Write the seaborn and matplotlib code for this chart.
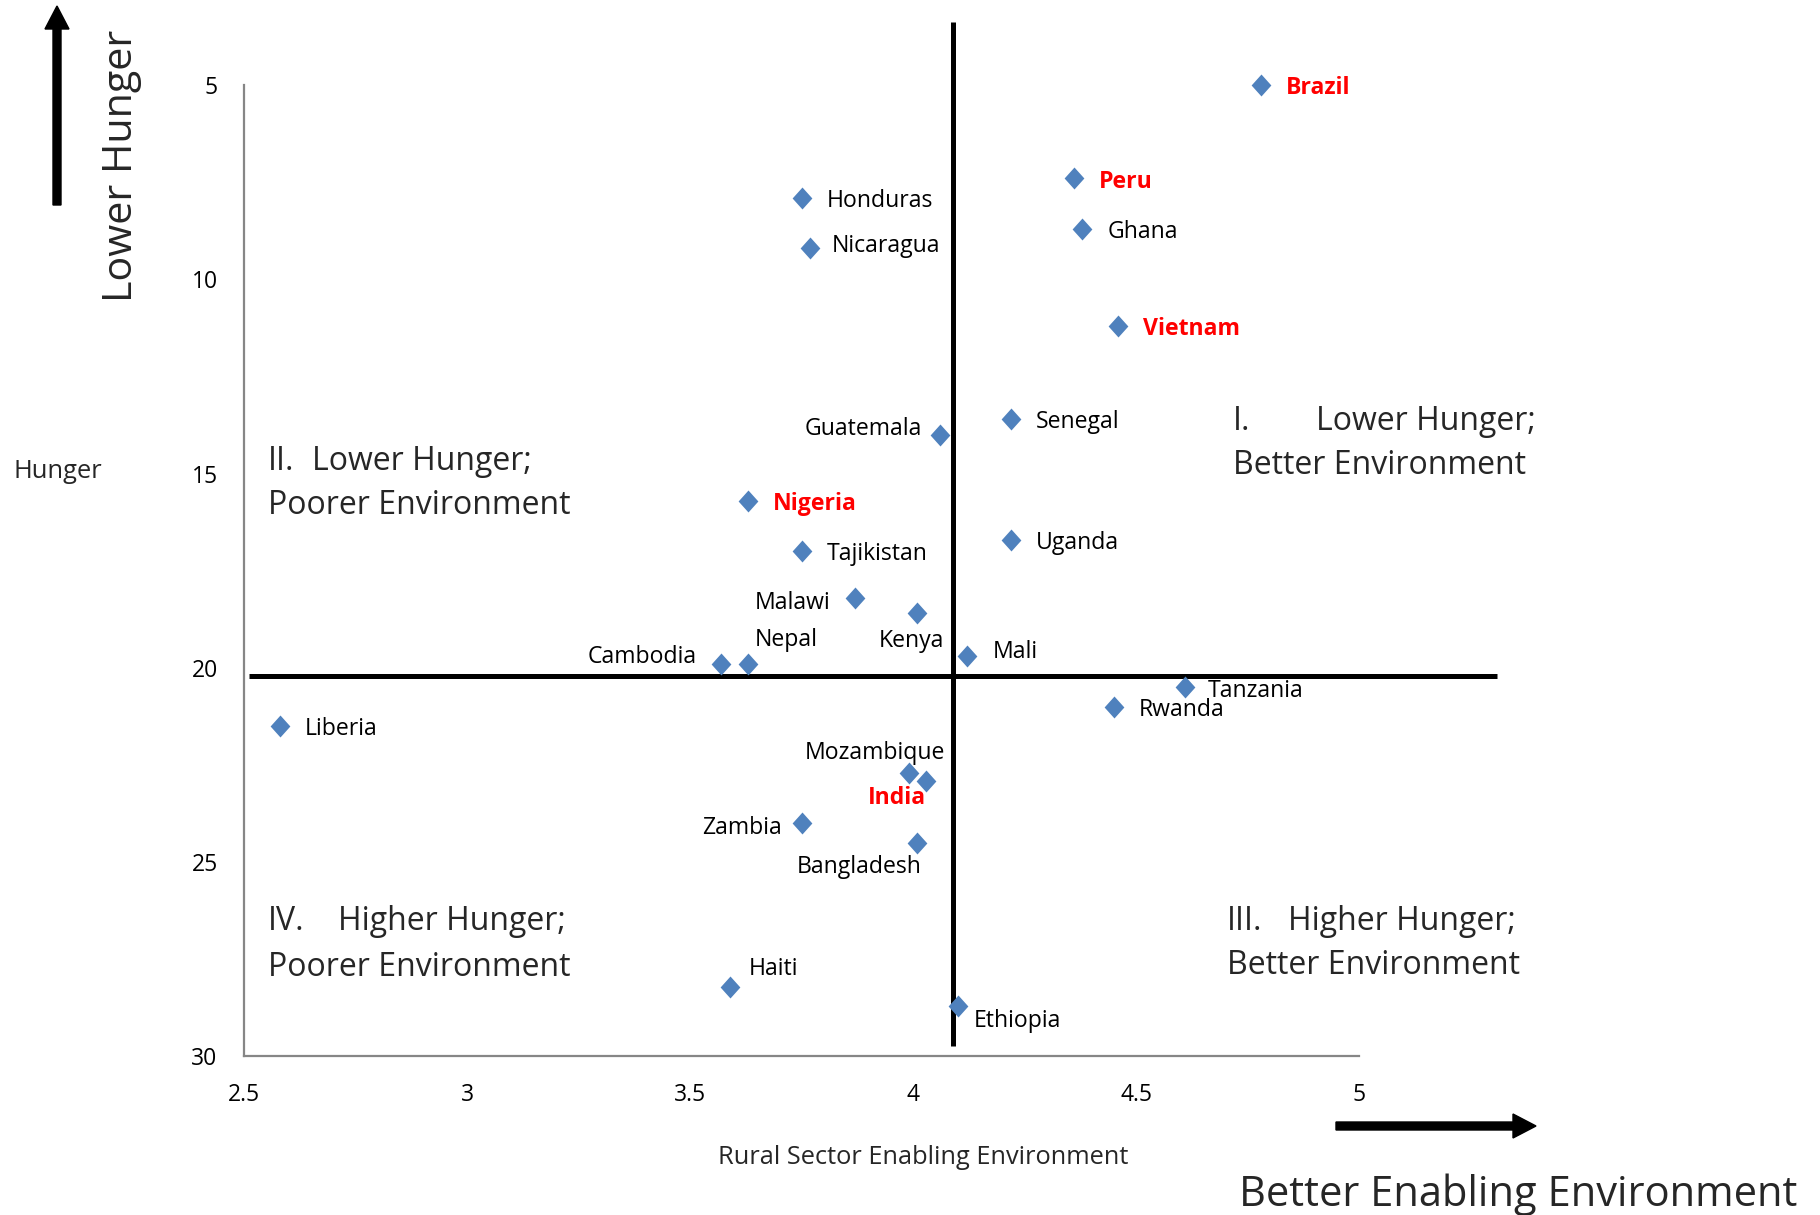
import matplotlib
matplotlib.use("Agg")
import matplotlib.pyplot as plt
import seaborn as sns
import pandas as pd
from matplotlib.path import Path
from matplotlib.patches import FancyArrow

# Country scores: rural sector enabling environment vs. hunger index
countries = ["Brazil", "Peru", "Ghana", "Vietnam", "Honduras", "Nicaragua",
             "Guatemala", "Senegal", "Nigeria", "Uganda", "Tajikistan",
             "Malawi", "Kenya", "Nepal", "Cambodia", "Mali", "Tanzania",
             "Rwanda", "Liberia", "Mozambique", "India", "Zambia",
             "Bangladesh", "Haiti", "Ethiopia"]
enabling_env = [4.78, 4.36, 4.38, 4.46, 3.75, 3.77,
                4.06, 4.22, 3.63, 4.22, 3.75,
                3.87, 4.01, 3.63, 3.57, 4.12, 4.61,
                4.45, 2.58, 3.99, 4.03, 3.75,
                4.01, 3.59, 4.10]
hunger_index = [5.0, 7.4, 8.7, 11.2, 7.9, 9.2,
                14.0, 13.6, 15.7, 16.7, 17.0,
                18.2, 18.6, 19.9, 19.9, 19.7, 20.5,
                21.0, 21.5, 22.7, 22.9, 24.0,
                24.5, 28.2, 28.7]
highlighted = ["Brazil", "Peru", "Vietnam", "Nigeria", "India"]

x_ticks = [2.5, 3, 3.5, 4, 4.5, 5]
x_tick_labels = ["2.5", "3", "3.5", "4", "4.5", "5"]
y_ticks = [5, 10, 15, 20, 25, 30]
y_tick_labels = ["5", "10", "15", "20", "25", "30"]

# quadrant split values
env_split = 4.09
hunger_split = 20.2

# label placement: offset in pixels from the marker, horizontal alignment
label_offsets = {
    "Brazil": (25, -3, "left"), "Peru": (25, -4, "left"),
    "Ghana": (25, -3, "left"), "Vietnam": (25, -3, "left"),
    "Honduras": (25, -3, "left"), "Nicaragua": (21, 2, "left"),
    "Guatemala": (-18, 6, "right"), "Senegal": (25, -3, "left"),
    "Nigeria": (25, -3, "left"), "Uganda": (25, -3, "left"),
    "Tajikistan": (25, -3, "left"), "Malawi": (-25, -5, "right"),
    "Kenya": (-6, -28, "center"), "Nepal": (38, 24, "center"),
    "Cambodia": (-25, 7, "right"), "Mali": (26, 4, "left"),
    "Tanzania": (23, -4, "left"), "Rwanda": (25, -3, "left"),
    "Liberia": (25, -3, "left"), "Mozambique": (-34, 20, "center"),
    "India": (-29, -17, "center"), "Zambia": (-20, -5, "right"),
    "Bangladesh": (-58, -24, "center"), "Haiti": (19, 18, "left"),
    "Ethiopia": (16, -15, "left"),
}

sns.set_style("white")
plt.rcParams["font.family"] = ["Open Sans", "DejaVu Sans"]

df = pd.DataFrame({"country": countries, "env": enabling_env, "hunger": hunger_index})

fig = plt.figure(figsize=(18.2, 12.15), dpi=100)
ax = fig.add_axes([0.1341, 0.1305, 0.6126, 0.7995])

diamond = Path([(0, 1), (0.9, 0), (0, -1), (-0.9, 0), (0, 1)],
               [Path.MOVETO, Path.LINETO, Path.LINETO, Path.LINETO, Path.CLOSEPOLY])
sns.scatterplot(data=df, x="env", y="hunger", marker=diamond, s=250,
                color="#4F81BD", linewidth=0, ax=ax, legend=False,
                clip_on=False, zorder=4)

ax.set_xlim(2.5, 5)
ax.set_ylim(30, 5)
ax.set_xticks(x_ticks, x_tick_labels)
ax.set_yticks(y_ticks, y_tick_labels)
ax.set_xlabel("")
ax.set_ylabel("")
for side in ("top", "right"):
    ax.spines[side].set_visible(False)
for side in ("left", "bottom"):
    ax.spines[side].set_color("#868686")
    ax.spines[side].set_linewidth(1.6)
ax.tick_params(axis="both", direction="out", length=5, width=1.4,
               color="#868686", labelcolor="black", labelsize=16.5)
ax.tick_params(axis="x", pad=14)
ax.tick_params(axis="y", pad=14)

# quadrant dividers
ax.plot([env_split, env_split], [3.38, 29.72], color="black", lw=3.6,
        clip_on=False, zorder=3, solid_capstyle="butt")
ax.plot([2.51, 5.31], [hunger_split, hunger_split], color="black", lw=3.6,
        clip_on=False, zorder=3, solid_capstyle="butt")

# country labels
for name, xv, yv in zip(countries, enabling_env, hunger_index):
    dx, dy, ha = label_offsets[name]
    hot = name in highlighted
    ax.annotate(name, (xv, yv), xytext=(dx, dy), textcoords="offset pixels",
                ha=ha, va="center", fontsize=16.6,
                color="#FF0000" if hot else "black",
                fontweight="bold" if hot else "normal", zorder=5)

# quadrant captions (figure pixel positions from top-left)
W, H = 1820, 1215
def ftext(px, py, s, **kw):
    fig.text(px / W, 1 - py / H, s, **kw)

qkw = dict(fontsize=23, va="center", ha="left")
ftext(268, 461, "II.", **qkw)
ftext(312, 461, "Lower Hunger;", **qkw)
ftext(268, 505, "Poorer Environment", **qkw)
ftext(1233, 422, "I.", **qkw)
ftext(1316, 422, "Lower Hunger;", **qkw)
ftext(1233, 466, "Better Environment", **qkw)
ftext(268, 922, "IV.", **qkw)
ftext(338, 922, "Higher Hunger;", **qkw)
ftext(268, 968, "Poorer Environment", **qkw)
ftext(1227, 921, "III.", **qkw)
ftext(1288, 921, "Higher Hunger;", **qkw)
ftext(1227, 965, "Better Environment", **qkw)

# axis titles
ftext(923, 1158, "Rural Sector Enabling Environment", fontsize=18.3, ha="center", va="center")
ftext(14, 471, "Hunger", fontsize=18.4, ha="left", va="center")
ftext(122, 166, "Lower Hunger", fontsize=29.7, ha="center", va="center", rotation=90)
ftext(1518, 1195, "Better Enabling Environment", fontsize=30, ha="center", va="center")

# direction arrows (inches from bottom-left)
def arrow(x0, y0, x1, y1):
    x0, y0, x1, y1 = x0 / 100, (H - y0) / 100, x1 / 100, (H - y1) / 100
    fig.add_artist(FancyArrow(x0, y0, x1 - x0, y1 - y0, width=0.08,
                              head_width=0.24, head_length=0.23,
                              length_includes_head=True, color="black",
                              transform=fig.dpi_scale_trans))

arrow(57, 205, 57, 6)
arrow(1336, 1126, 1536, 1126)

fig.savefig("out.png", dpi=100)
